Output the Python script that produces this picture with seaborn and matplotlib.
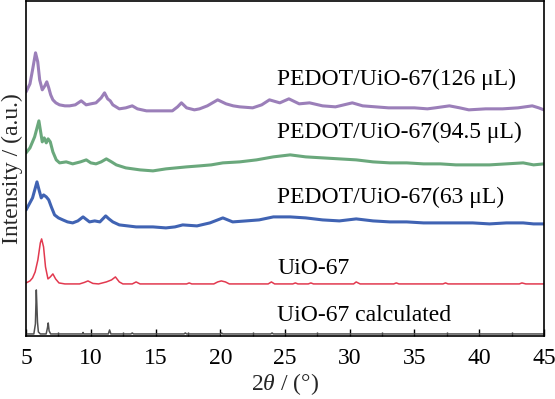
import matplotlib
matplotlib.use("Agg")
import matplotlib.pyplot as plt
from matplotlib.ticker import MultipleLocator
import seaborn as sns
import pandas as pd

# stacked XRD patterns, intensity (a.u., relative to each baseline)
calc_x = [5.0, 5.6, 5.72, 5.79, 5.83, 5.88, 5.95, 6.1, 6.55, 6.65, 6.71, 6.78, 6.9,
          9.35, 9.4, 9.45, 11.35, 11.45, 11.55, 13.1, 13.2, 13.3, 17.2, 17.3, 17.4,
          20.0, 20.1, 20.2, 23.9, 24.0, 24.1, 45.0]
calc_y = [0, 0, 10, 44, 30, 12, 2, 0, 0, 6, 11, 3, 0,
          0, 1.5, 0, 0, 4, 0, 0, 1, 0, 0, 1, 0,
          0, 1, 0, 0, 1, 0, 0]

uio_x = [5.0, 5.3, 5.5, 5.7, 5.91, 6.1, 6.2, 6.35, 6.5, 6.69, 6.87, 7.07, 7.28, 7.54,
         8.0, 9.13, 9.5, 9.78, 10.16, 10.6, 11.2, 11.6, 11.9, 12.2, 12.48, 13.2, 13.5,
         13.8, 17.4, 17.6, 17.8, 19.5, 19.8, 20.08, 20.4, 20.7, 23.7, 23.95, 24.2, 25.6,
         25.8, 26.0, 26.8, 27.0, 27.2, 30.3, 30.5, 30.8, 33.4, 33.6, 33.8, 37.2, 37.4,
         37.6, 43.1, 43.3, 43.6, 45.0]
uio_y = [1, 3, 6, 12, 24, 41, 45, 37, 17, 5, 7, 10, 5, 1,
         0, 0, 1.5, 3, 0.5, 0, 2, 4, 7, 2, 0, 0, 2,
         0, 0, 1, 0, 0, 2, 3, 2, 0, 0, 2, 0, 0,
         1, 0, 0, 1, 0, 0, 2, 0, 0, 1, 0, 0, 1,
         0, 0, 1, 0, 0]

p63_x = [5.0, 5.25, 5.5, 5.84, 6.0, 6.17, 6.35, 6.56, 6.75, 6.95, 7.2, 7.5, 7.84, 8.2,
         8.6, 9.0, 9.4, 9.9, 10.3, 10.7, 11.15, 11.4, 11.7, 12.2, 13.5, 14.8, 15.8, 16.5,
         17.1, 18.2, 19.2, 20.2, 20.96, 22.0, 23.0, 24.1, 25.4, 26.6, 27.9, 29.2, 30.5,
         31.8, 33.1, 34.4, 35.7, 37.0, 38.2, 39.5, 40.8, 42.1, 43.4, 44.2, 45.0]
p63_y = [26, 32, 38, 54, 46, 38, 41, 39, 36, 29, 21, 18, 16, 14,
         13, 15, 19, 14, 15, 14, 20, 17, 14, 11, 9, 9, 8, 9,
         11, 10, 13, 18, 14, 15, 16, 19, 19, 18, 16, 15, 17,
         15, 14, 14, 13, 13, 13, 13, 12, 13, 13, 12, 12]

p945_x = [5.0, 5.3, 5.66, 5.99, 6.1, 6.25, 6.4, 6.56, 6.7, 6.87, 7.07, 7.33, 7.59, 8.1,
          8.6, 9.2, 9.65, 10.0, 10.4, 10.8, 11.2, 11.6, 11.97, 12.7, 13.8, 14.8, 15.8,
          16.6, 17.4, 18.4, 19.3, 20.2, 21.5, 22.8, 24.1, 25.4, 26.6, 27.9, 29.2, 30.5,
          31.8, 33.1, 34.4, 35.7, 37.0, 38.2, 39.5, 40.8, 42.1, 43.4, 44.2, 45.0]
p945_y = [23, 28, 39, 55, 46, 34, 38, 33, 37, 34, 24, 16, 13, 14,
          12, 14, 16, 13, 12, 14, 17, 14, 11, 8, 6, 5, 7,
          8, 9, 10, 11, 13, 14, 16, 19, 21, 19, 18, 17, 16,
          14, 13, 13, 12, 12, 11, 11, 11, 12, 13, 11, 12]

p126_x = [5.0, 5.3, 5.5, 5.73, 5.9, 6.05, 6.25, 6.45, 6.6, 6.75, 6.9, 7.07, 7.3, 7.58,
          8.0, 8.36, 8.8, 9.26, 9.64, 10.0, 10.4, 10.8, 11.06, 11.3, 11.5, 11.7, 12.2,
          12.7, 13.2, 13.6, 14.3, 15.3, 16.3, 16.7, 17.0, 17.4, 18.0, 18.4, 19.0, 19.8,
          20.45, 21.0, 21.5, 22.5, 23.2, 23.8, 24.6, 25.3, 26.1, 26.9, 27.9, 28.9, 30.2,
          31.0, 32.0, 33.0, 34.0, 35.0, 36.0, 36.6, 37.7, 38.5, 39.2, 40.5, 41.8, 43.0,
          44.1, 44.6, 45.0]
p126_y = [28, 36, 50, 67, 58, 40, 30, 34, 38, 32, 25, 20, 17, 15,
          14, 14, 15, 19, 15, 16, 17, 22, 27, 21, 19, 15, 11,
          12, 14, 11, 9, 9, 9, 13, 17, 12, 10, 11, 14, 20,
          16, 14, 13, 12, 15, 20, 17, 21, 16, 17, 14, 13, 17,
          14, 13, 12, 12, 12, 11, 12, 14, 12, 10, 11, 11, 12,
          14, 12, 10]

names = ["UiO-67 calculated", "UiO-67", "PEDOT/UiO-67(63 μL)",
         "PEDOT/UiO-67(94.5 μL)", "PEDOT/UiO-67(126 μL)"]
xs = [calc_x, uio_x, p63_x, p945_x, p126_x]
ys = [calc_y, uio_y, p63_y, p945_y, p126_y]
offsets = [2, 52, 100, 160, 216]
label_y = [20, 67, 138, 203, 256]
colors = ["#505050", "#e2394f", "#4063b3", "#6aa87c", "#9b7fb9"]
widths = [1.1, 1.1, 2.2, 2.2, 2.2]

sns.set_theme(style="ticks")
plt.rcParams["font.family"] = ["Liberation Serif", "DejaVu Serif"]
plt.rcParams["mathtext.fontset"] = "custom"
plt.rcParams["mathtext.it"] = "Liberation Serif:italic"
plt.rcParams["mathtext.rm"] = "Liberation Serif"

fig = plt.figure(figsize=(5.55, 3.99), dpi=100)
ax = fig.add_axes([0.047, 0.158, 0.933, 0.84])

for x, y, off, name, c, lw, ly in zip(xs, ys, offsets, names, colors, widths, label_y):
    df = pd.DataFrame({"theta": x, "I": [v + off for v in y]})
    sns.lineplot(data=df, x="theta", y="I", color=c, lw=lw, ax=ax)
    ax.text(24.4, ly, name, fontsize=17, va="center", ha="left", color="black")

ax.set_xlim(5, 45)
ax.set_ylim(0, 335)
ax.set_yticks([])
ax.xaxis.set_major_locator(MultipleLocator(5))
ax.xaxis.set_minor_locator(MultipleLocator(2.5))
ax.tick_params(axis="x", which="major", direction="in", length=5, width=1,
               labelsize=17, pad=9, colors="black")
ax.tick_params(axis="x", which="minor", direction="in", length=3, width=1)
for s in ax.spines.values():
    s.set_color("black")
    s.set_linewidth(1.2)
ax.set_xlabel(r"2$\theta$ / (°)", fontsize=17, labelpad=1)
ax.set_ylabel("Intensity / (a.u.)", fontsize=17, labelpad=2)

fig.savefig("out.png", dpi=100)
